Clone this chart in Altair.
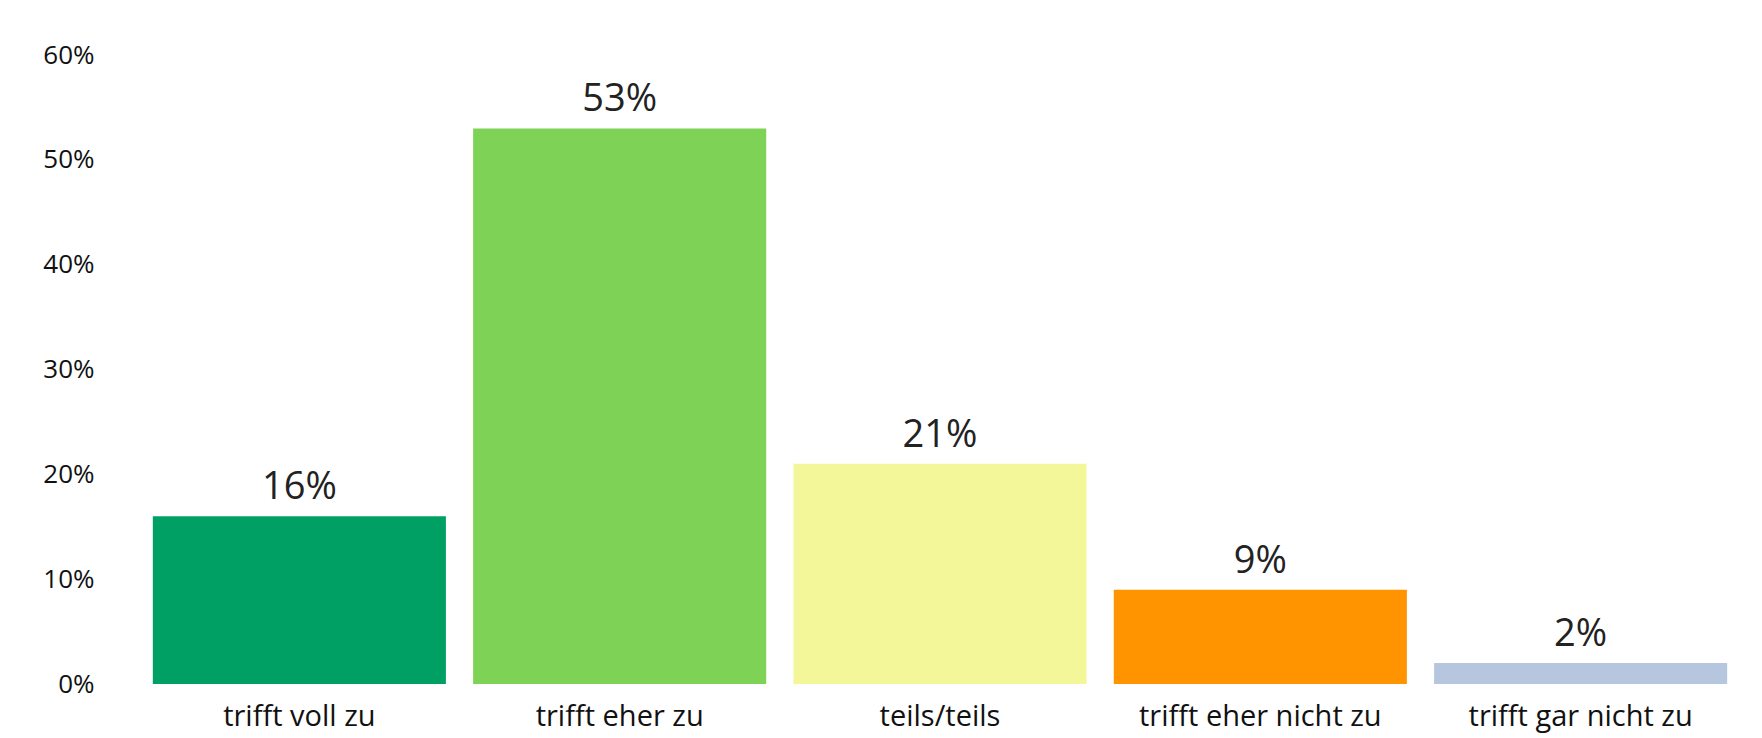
import altair as alt
import pandas as pd

categories = ["trifft voll zu", "trifft eher zu", "teils/teils", "trifft eher nicht zu", "trifft gar nicht zu"]
values = [0.16, 0.53, 0.21, 0.09, 0.02]
colors = ["#00A065", "#7ED357", "#F3F799", "#FF9300", "#B6C6DF"]
y_ticks = [0, 0.1, 0.2, 0.3, 0.4, 0.5, 0.6]

df = pd.DataFrame({"cat": categories, "val": values, "color": colors})

x = alt.X("cat:N", sort=categories, title=None,
          scale=alt.Scale(paddingInner=0.085, paddingOuter=0.04),
          axis=alt.Axis(labelAngle=0, domain=False, ticks=False, labelFontSize=29,
                        labelFont="Open Sans", labelColor="#111111", labelPadding=18,
                        labelLimit=0))
y = alt.Y("val:Q", title=None, scale=alt.Scale(domain=[0, 0.6], nice=False),
          axis=alt.Axis(values=y_ticks, format=".0%", domain=False, ticks=False, grid=False,
                        labelFontSize=26, labelFont="Open Sans", labelColor="#111111",
                        labelPadding=46))

bars = alt.Chart(df).mark_bar().encode(
    x=x, y=y, color=alt.Color("color:N", scale=None)
)
labels = alt.Chart(df).mark_text(dy=-9, fontSize=38, font="Open Sans", color="#222222",
                                 baseline="bottom").encode(
    x=alt.X("cat:N", sort=categories), y="val:Q", text=alt.Text("val:Q", format=".0%")
)

chart = (bars + labels).properties(
    width=1600, height=629,
    autosize=alt.AutoSizeParams(type="none"),
    padding={"left": 132, "top": 47, "right": 10, "bottom": 60},
).configure_view(stroke=None)

chart.save("out.html", embed_options={"renderer": "svg", "actions": False})
